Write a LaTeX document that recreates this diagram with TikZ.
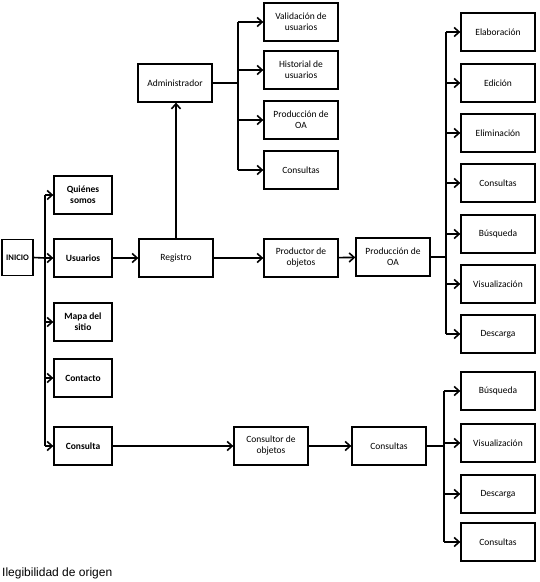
\documentclass[tikz,border=0pt]{standalone}
\usepackage{fontspec}
\setmainfont{Carlito}
\newfontfamily\capfont{Liberation Sans}
\usetikzlibrary{arrows.meta}

\begin{document}
\begin{tikzpicture}[x=1pt,y=-1pt,
  caja/.style={draw,line width=1.3pt,minimum width=74pt,minimum height=38pt,align=center,inner sep=1pt,font=\fontsize{9.5}{11}\selectfont},
  cajab/.style={caja,minimum width=58pt,font=\fontsize{9.5}{11}\selectfont\bfseries},
  flecha/.style={-{Straight Barb[length=5pt,width=9pt]},line width=1.6pt},
  linea/.style={line width=1.6pt}]
\useasboundingbox (0,0) rectangle (540,582);
% columna izquierda
\node[cajab,minimum width=31pt,minimum height=36pt,inner sep=0pt,font=\fontsize{8.5}{10}\selectfont\bfseries] (inicio) at (17.5,257.5) {INICIO};
\node[cajab] (quienes) at (83,195) {Quiénes\\somos};
\node[cajab] (usuarios) at (83,258) {Usuarios};
\node[cajab] (mapa) at (83,322) {Mapa del\\sitio};
\node[cajab] (contacto) at (83,378) {Contacto};
\node[cajab] (consulta) at (83,446) {Consulta};
% registro y administrador
\node[caja] (registro) at (176,258) {Registro};
\node[caja] (admin) at (175,83) {Administrador};
\node[caja] (valid) at (301,22) {Validación de\\usuarios};
\node[caja] (hist) at (301,70) {Historial de\\usuarios};
\node[caja] (prodadm) at (301,120) {Producción de\\OA};
\node[caja] (consadm) at (301,170) {Consultas};
% productor
\node[caja] (productor) at (301,258) {Productor de\\objetos};
\node[caja] (produccion) at (393,257) {Producción de\\OA};
\node[caja] (elab) at (498,32) {Elaboración};
\node[caja] (edic) at (498,83) {Edición};
\node[caja] (elim) at (498,133) {Eliminación};
\node[caja] (consp) at (498,183) {Consultas};
\node[caja] (busp) at (498,234) {Búsqueda};
\node[caja] (visp) at (498,284) {Visualización};
\node[caja] (desp) at (498,334) {Descarga};
% consultor
\node[caja] (consultor) at (271,446) {Consultor de\\objetos};
\node[caja] (consultas) at (389,446) {Consultas};
\node[caja] (busc) at (498,391) {Búsqueda};
\node[caja] (visc) at (498,443) {Visualización};
\node[caja] (desc) at (498,494) {Descarga};
\node[caja] (consc) at (498,542) {Consultas};
\node[anchor=west,inner sep=0pt,font=\capfont\fontsize{12}{13}\selectfont] (pie) at (2,573) {Ilegibilidad de origen};

% buses
\coordinate (bi) at (45,258);
\coordinate (ba) at (238,83);
\coordinate (bp) at (446,257);
\coordinate (bc) at (444,446);

\draw[linea] (inicio.east) -- (bi);
\draw[linea] (bi |- quienes) -- (bi |- consulta);
\foreach \n in {quienes,usuarios,mapa,contacto,consulta}
  \draw[flecha] (bi |- \n.west) -- (\n.west);
\draw[flecha] (usuarios) -- (registro);
\draw[flecha] (registro) -- (registro |- admin.south);
\draw[linea] (admin.east) -- (ba);
\draw[linea] (ba |- valid) -- (ba |- consadm);
\foreach \n in {valid,hist,prodadm,consadm}
  \draw[flecha] (ba |- \n.west) -- (\n.west);
\draw[flecha] (registro) -- (productor);
\draw[flecha] (productor) -- (produccion);
\draw[linea] (produccion.east) -- (bp);
\draw[linea] (bp |- elab) -- (bp |- desp);
\foreach \n in {elab,edic,elim,consp,busp,visp,desp}
  \draw[flecha] (bp |- \n.west) -- (\n.west);
\draw[flecha] (consulta) -- (consultor);
\draw[flecha] (consultor) -- (consultas);
\draw[linea] (consultas.east) -- (bc);
\draw[linea] (bc |- busc) -- (bc |- consc);
\foreach \n in {busc,visc,desc,consc}
  \draw[flecha] (bc |- \n.west) -- (\n.west);
\end{tikzpicture}
\end{document}
